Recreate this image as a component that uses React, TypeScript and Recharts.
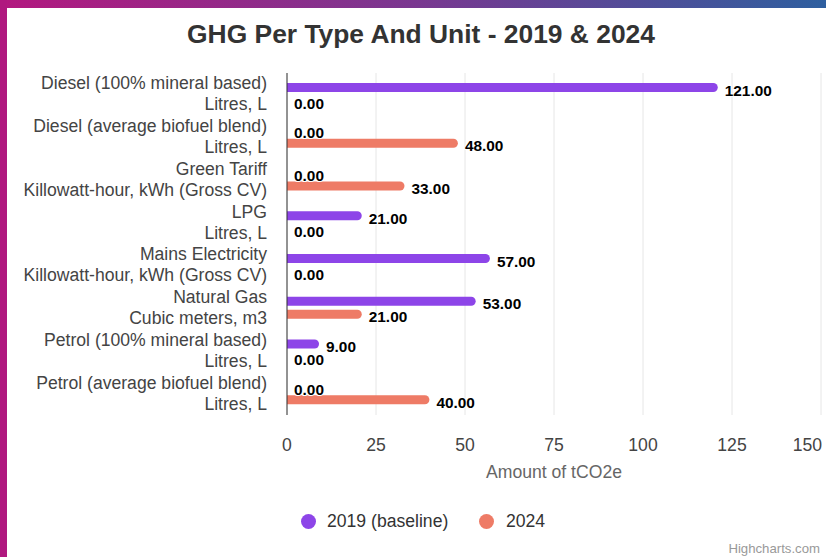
import React from "react";
import { BarChart, Bar, XAxis, YAxis, CartesianGrid, LabelList, Label, Rectangle } from "recharts";

const categories = [
  "Diesel (100% mineral based)",
  "Diesel (average biofuel blend)",
  "Green Tariff",
  "LPG",
  "Mains Electricity",
  "Natural Gas",
  "Petrol (100% mineral based)",
  "Petrol (average biofuel blend)",
];
const units = [
  "Litres, L",
  "Litres, L",
  "Killowatt-hour, kWh (Gross CV)",
  "Litres, L",
  "Killowatt-hour, kWh (Gross CV)",
  "Cubic meters, m3",
  "Litres, L",
  "Litres, L",
];
const values2019 = [121, 0, 0, 21, 57, 53, 9, 0];
const values2024 = [0, 48, 33, 0, 0, 21, 0, 40];
const xTicks = [0, 25, 50, 75, 100, 125, 150];
const seriesNames = ["2019 (baseline)", "2024"];
const colors = ["#8d45e8", "#ee7b66"];

const data = categories.map((c, i) => ({
  name: c,
  unit: units[i],
  v2019: values2019[i],
  v2024: values2024[i],
}));

const FONT = '"Liberation Sans", Arial, Helvetica, sans-serif';

const YTick = (props: any) => {
  const { x, y, payload } = props;
  const idx = payload.index;
  return (
    <g>
      <text x={x - 20} y={y - 11} textAnchor="end" dominantBaseline="central" fontSize={17.6} fill="#444" fontFamily={FONT}>
        {categories[idx]}
      </text>
      <text x={x - 20} y={y + 10} textAnchor="end" dominantBaseline="central" fontSize={17.6} fill="#444" fontFamily={FONT}>
        {units[idx]}
      </text>
    </g>
  );
};

const XTick = (props: any) => {
  const { x, y, payload } = props;
  const last = payload.value === xTicks[xTicks.length - 1];
  return (
    <text x={last ? x + 1 : x} y={y + 30} textAnchor={last ? "end" : "middle"} dominantBaseline="central" fontSize={17.6} fill="#444" fontFamily={FONT}>
      {payload.value}
    </text>
  );
};

const ValueLabel = (props: any) => {
  const { x, y, width, height, value } = props;
  const w = Number(value) > 0 ? width : 0;
  return (
    <text
      x={x + w + 7}
      y={y + height / 2 + 2.5}
      dominantBaseline="central"
      fontSize={15.4}
      fontWeight="bold"
      fill="#000"
      stroke="#fff"
      strokeWidth={2}
      paintOrder="stroke"
      strokeLinejoin="round"
      fontFamily={FONT}
    >
      {Number(value).toFixed(2)}
    </text>
  );
};

const BarShape = (props: any) => {
  const { value } = props;
  const v = Array.isArray(value) ? value[1] - value[0] : value;
  if (!(Number(v) > 0)) return <g />;
  return <Rectangle {...props} />;
};

export default function App() {
  return (
    <div style={{ position: "fixed", left: 0, top: 0, width: 826, height: 557, background: "#fff", overflow: "hidden", fontFamily: FONT }}>
      <div style={{ position: "absolute", left: 0, top: 0, width: 826, height: 8, background: "linear-gradient(to right, #b3187f, #7a3790 50%, #2e5f9f)" }} />
      <div style={{ position: "absolute", left: 0, top: 0, width: 7, height: 557, background: "#b0187f" }} />
      <div style={{ position: "absolute", left: 0, width: 842, top: 19, textAlign: "center", fontSize: 26.4, fontWeight: "bold", color: "#333", lineHeight: "30px" }}>
        GHG Per Type And Unit - 2019 &amp; 2024
      </div>
      <div style={{ position: "absolute", left: 0, top: 0 }}>
        <BarChart
          width={826}
          height={557}
          data={data}
          layout="vertical"
          margin={{ top: 73, right: 5, bottom: 82, left: 0 }}
          barSize={9}
          barGap={4}
        >
          <CartesianGrid horizontal={false} stroke="#e6e6e6" />
          <XAxis
            type="number"
            domain={[0, 150]}
            ticks={xTicks}
            axisLine={false}
            tickLine={false}
            tickSize={0}
            tickMargin={0}
            tick={<XTick />}
            height={60}
            interval={0}
          >
            <Label
              content={(p: any) => {
                const vb = p.viewBox || {};
                return (
                  <text x={vb.x + vb.width / 2} y={vb.y + 57} textAnchor="middle" dominantBaseline="central" fontSize={17.6} fill="#666" fontFamily={FONT}>
                    Amount of tCO2e
                  </text>
                );
              }}
            />
          </XAxis>
          <YAxis
            type="category"
            dataKey="name"
            width={287}
            axisLine={{ stroke: "#333", strokeWidth: 1 }}
            tickLine={false}
            tickSize={0}
            tickMargin={0}
            tick={<YTick />}
            interval={0}
          />
          <Bar dataKey="v2019" name={seriesNames[0]} fill={colors[0]} radius={[0, 5, 5, 0]} minPointSize={1} shape={<BarShape />} isAnimationActive={false}>
            <LabelList dataKey="v2019" content={<ValueLabel />} />
          </Bar>
          <Bar dataKey="v2024" name={seriesNames[1]} fill={colors[1]} radius={[0, 5, 5, 0]} minPointSize={1} shape={<BarShape />} isAnimationActive={false}>
            <LabelList dataKey="v2024" content={<ValueLabel />} />
          </Bar>
        </BarChart>
      </div>
      <div style={{ position: "absolute", top: 511, left: 301, height: 20, display: "flex", alignItems: "center", fontSize: 17.6, color: "#333" }}>
        <span style={{ width: 15, height: 15, borderRadius: "50%", background: colors[0], display: "inline-block" }} />
        <span style={{ marginLeft: 11, lineHeight: "20px" }}>{seriesNames[0]}</span>
      </div>
      <div style={{ position: "absolute", top: 511, left: 479, height: 20, display: "flex", alignItems: "center", fontSize: 17.6, color: "#333" }}>
        <span style={{ width: 15, height: 15, borderRadius: "50%", background: colors[1], display: "inline-block" }} />
        <span style={{ marginLeft: 12, lineHeight: "20px" }}>{seriesNames[1]}</span>
      </div>
      <div style={{ position: "absolute", right: 6, top: 541, fontSize: 13.2, color: "#999" }}>Highcharts.com</div>
    </div>
  );
}
